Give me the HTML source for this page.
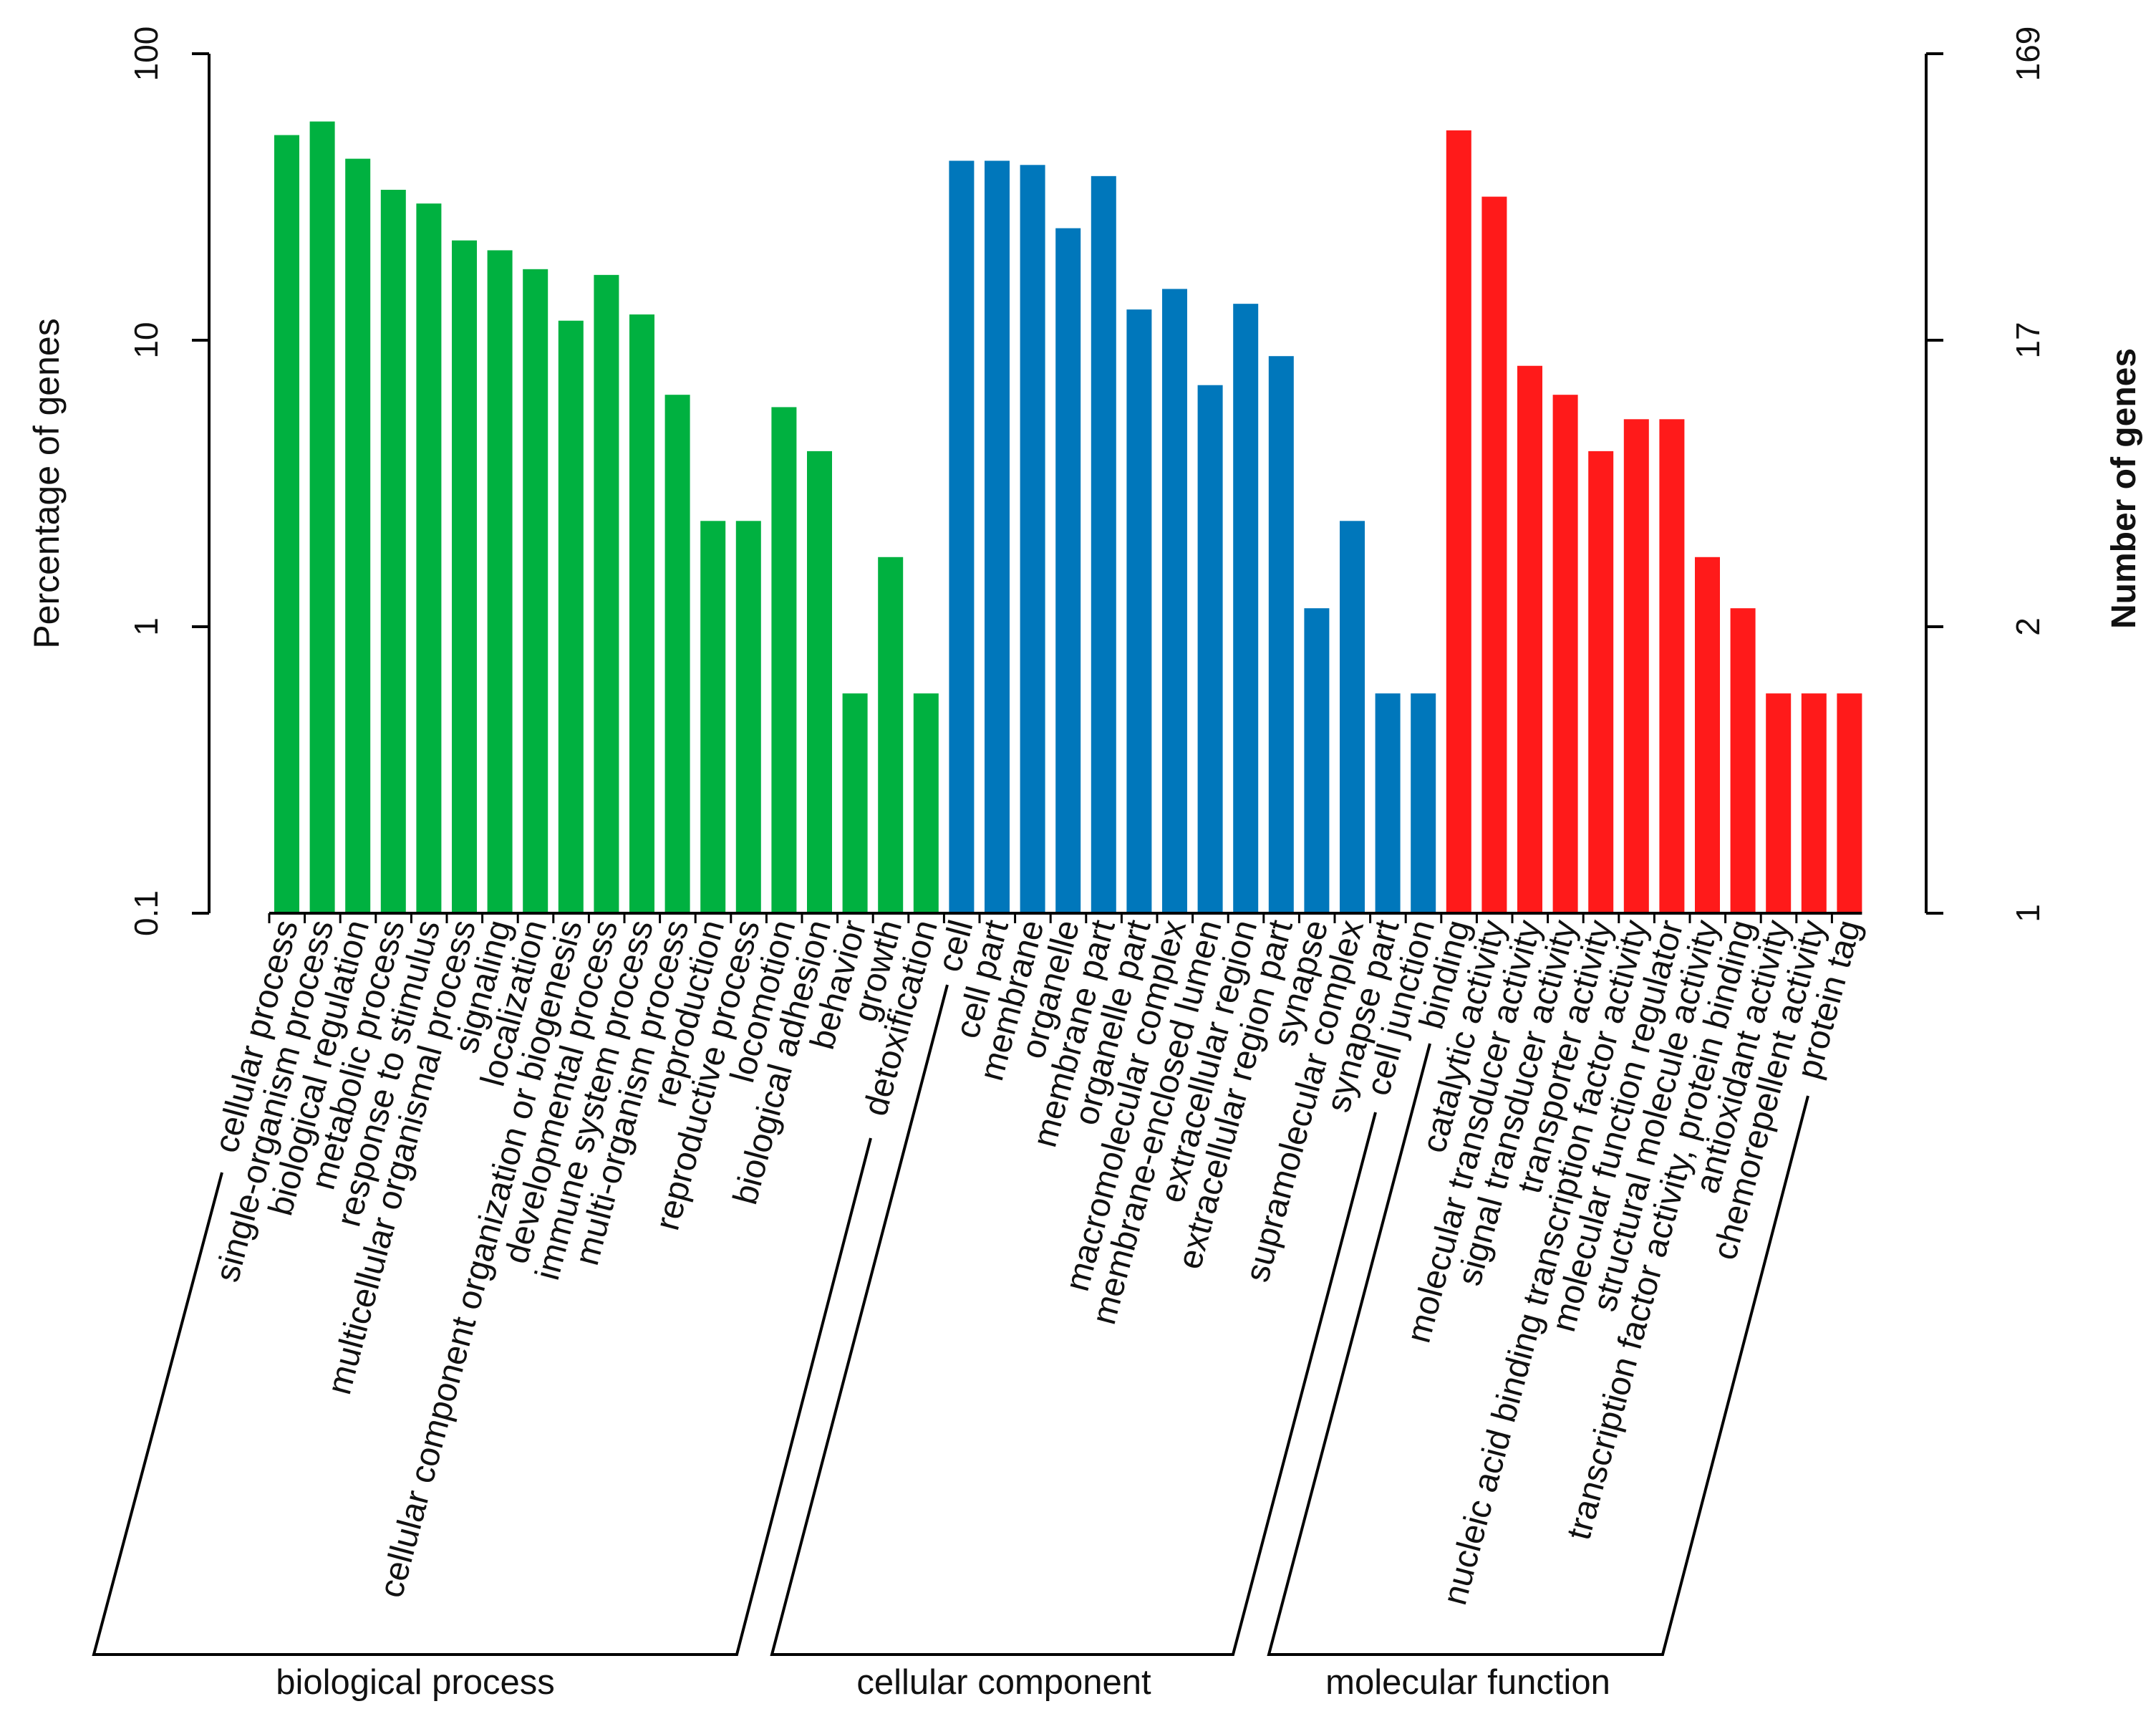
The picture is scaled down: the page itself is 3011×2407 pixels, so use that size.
<!DOCTYPE html>
<html><head><meta charset="utf-8"><style>
html,body{margin:0;padding:0;background:#fff;}
svg{display:block;font-family:"Liberation Sans",Arial,sans-serif;}
</style></head><body>
<svg id="chart" width="3011" height="2407" viewBox="0 0 3011 2407" xmlns="http://www.w3.org/2000/svg">
<g id="bars"></g>
<g id="xlabels"></g>
<g id="axes"></g>
</svg>
<script>
const bpCategories = ["cellular process","single-organism process","biological regulation","metabolic process","response to stimulus","multicellular organismal process","signaling","localization","cellular component organization or biogenesis","developmental process","immune system process","multi-organism process","reproduction","reproductive process","locomotion","biological adhesion","behavior","growth","detoxification"];
const bpValues = [52,58,43,33.5,30,22.3,20.6,17.7,11.7,16.9,12.3,6.45,2.34,2.34,5.84,4.1,0.585,1.75,0.585];
const ccCategories = ["cell","cell part","membrane","organelle","membrane part","organelle part","macromolecular complex","membrane-enclosed lumen","extracellular region","extracellular region part","synapse","supramolecular complex","synapse part","cell junction"];
const ccValues = [42.3,42.3,40.9,24.6,37.4,12.8,15.1,6.97,13.4,8.8,1.16,2.34,0.585,0.585];
const mfCategories = ["binding","catalytic activity","molecular transducer activity","signal transducer activity","transporter activity","nucleic acid binding transcription factor activity","molecular function regulator","structural molecule activity","transcription factor activity, protein binding","antioxidant activity","chemorepellent activity","protein tag"];
const mfValues = [54,31.7,8.14,6.45,4.1,5.3,5.3,1.75,1.16,0.585,0.585,0.585];
const leftTicks = [0.1,1,10,100];
const leftTickLabels = ["0.1","1","10","100"];
const rightTickLabels = ["1","2","17","169"];
const groupNames = ["biological process","cellular component","molecular function"];

const NS="http://www.w3.org/2000/svg";
const Y0=1275, DEC=400, X0=383, STEP=49.6, BW=35;
function yScale(v){return Y0-(Math.log10(v)+1)*DEC;}
function xScale(i){return X0+i*STEP;}
function mk(tag,attrs,parent){const e=document.createElementNS(NS,tag);for(const k in attrs)e.setAttribute(k,attrs[k]);parent.appendChild(e);return e;}
const barsG=document.getElementById('bars'), labG=document.getElementById('xlabels'), axG=document.getElementById('axes');
const groups=[[bpCategories,bpValues,"#00b140"],[ccCategories,ccValues,"#0077bb"],[mfCategories,mfValues,"#ff1a1a"]];
let idx=0;
groups.forEach(([cats,vals,col])=>{
  cats.forEach((c,j)=>{
    const x=xScale(idx), y=yScale(vals[j]);
    const r=mk('rect',{x:x,y:y,width:BW,height:Y0-y,fill:col},barsG);
    
    
    const cx=x+BW/2+16;
    const t=mk('text',{x:cx,y:1290,'font-size':48,'text-anchor':'end',fill:'#111',transform:`rotate(-75 ${cx} 1290)`},labG);
    t.textContent=c;
    
    
    const tk=mk('line',{x1:x-7,y1:Y0,x2:x-7,y2:Y0+14,stroke:'#000','stroke-width':3},axG);
    
    
    idx++;
  });
});
const xl=mk('line',{x1:X0-7,y1:Y0,x2:xScale(idx-1)+BW,y2:Y0,stroke:'#000','stroke-width':4},axG);


const la=mk('line',{x1:292,y1:yScale(100),x2:292,y2:Y0,stroke:'#000','stroke-width':4},axG);


const ra=mk('line',{x1:2690,y1:yScale(100),x2:2690,y2:Y0,stroke:'#000','stroke-width':4},axG);


leftTicks.forEach((v,i)=>{
  const y=yScale(v);
  mk('line',{x1:268,y1:y,x2:292,y2:y,stroke:'#000','stroke-width':4},axG);
  mk('line',{x1:2690,y1:y,x2:2714,y2:y,stroke:'#000','stroke-width':4},axG);
  const t=mk('text',{x:220,y:y,'font-size':46,'text-anchor':'middle',fill:'#111',transform:`rotate(-90 220 ${y})`},axG);
  t.textContent=leftTickLabels[i];
  
  
  const t2=mk('text',{x:2848,y:y,'font-size':46,'text-anchor':'middle',fill:'#111',transform:`rotate(-90 2848 ${y})`},axG);
  t2.textContent=rightTickLabels[i];
  
  
});
const lt=mk('text',{x:82,y:675,'font-size':50,'text-anchor':'middle',fill:'#111',transform:'rotate(-90 82 675)'},axG);
lt.textContent="Percentage of genes";


const rt=mk('text',{x:2982,y:682,'font-size':48,'font-weight':'bold','text-anchor':'middle',fill:'#111',transform:'rotate(-90 2982 682)'},axG);
rt.textContent="Number of genes";


const brackets=[[131,310,1029,1216,580],[1078,1323,1722,1921,1402],[1772,1997,2322,2525,2050]];
brackets.forEach((b,i)=>{
  const p=mk('polyline',{points:`${b[1]},${i==0?1637:i==1?1375:1457} ${b[0]},2310 ${b[2]},2310 ${b[3]},${i==0?1589:i==1?1553:1530}`,fill:'none',stroke:'#000','stroke-width':4},axG);
  
  
  const t=mk('text',{x:b[4],y:2365,'font-size':49,'text-anchor':'middle',fill:'#111'},axG);
  t.textContent=groupNames[i];
  
  
});
</script>
</body></html>
